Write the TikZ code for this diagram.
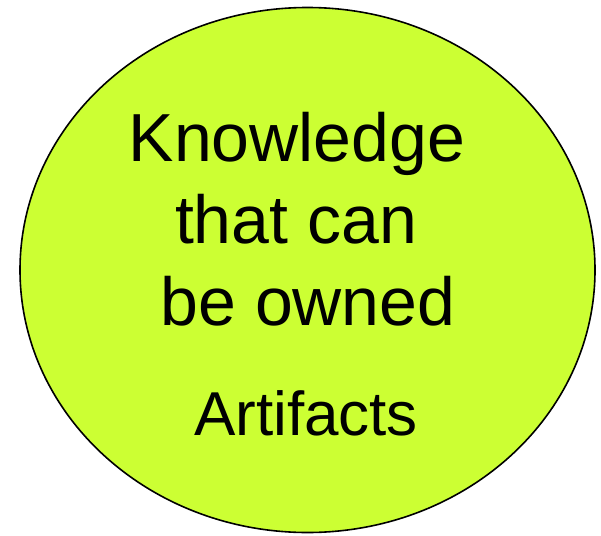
\documentclass[tikz,border=0pt]{standalone}
\usepackage{fontspec}
\setmainfont{Liberation Sans}
\usepackage{xcolor}
\usetikzlibrary{shapes.geometric,positioning}
\definecolor{limefill}{HTML}{CCFF33}

\begin{document}
\begin{tikzpicture}[x=1pt,y=-1pt,
  blob/.style={draw,ellipse,fill=limefill,line width=1.6pt,inner sep=0pt},
  big/.style={anchor=base,inner sep=0pt,font=\fontsize{68}{80}\selectfont},
  small/.style={anchor=base,inner sep=0pt,font=\fontsize{62}{73}\selectfont}]
\useasboundingbox (0,0) rectangle (601,535);
\node[blob,minimum width=575pt,minimum height=525pt] (owned) at (307.5,270) {};
\node[big] (know) at (297,161) {Knowledge};
\node[big] (that) at (296,243) {that can};
\node[big] (be) at (308,325) {be owned};
\node[small] (art) at (306,435) {Artifacts};
\end{tikzpicture}
\end{document}
